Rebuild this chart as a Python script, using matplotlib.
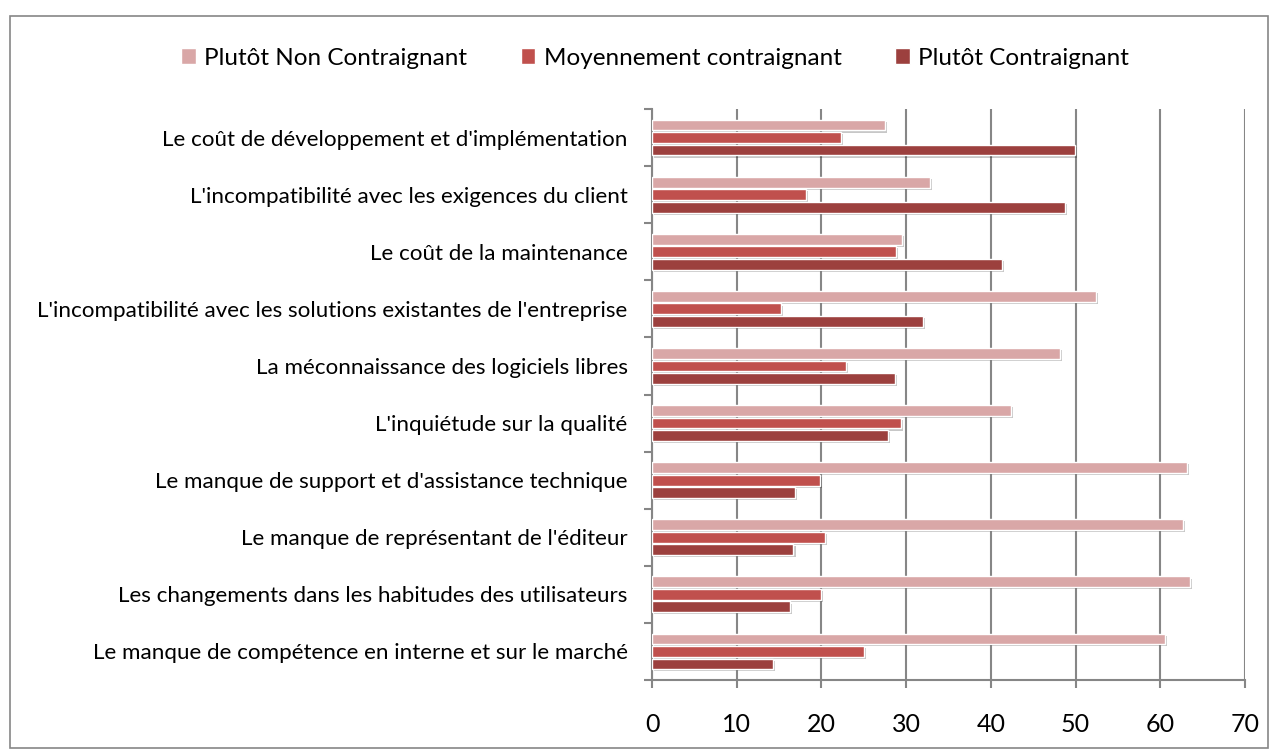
import matplotlib
matplotlib.use('Agg')
import matplotlib.pyplot as plt
import matplotlib.patheffects as pe
from matplotlib.patches import Patch, Rectangle
import numpy as np

plt.rcParams['font.family'] = ['Lato', 'DejaVu Sans']

# categories, top to bottom
categories = [
    "Le coût de développement et d'implémentation",
    "L'incompatibilité avec les exigences du client",
    "Le coût de la maintenance",
    "L'incompatibilité avec les solutions existantes de l'entreprise",
    "La méconnaissance des logiciels libres",
    "L'inquiétude sur la qualité",
    "Le manque de support et d'assistance technique",
    "Le manque de représentant de l'éditeur",
    "Les changements dans les habitudes des utilisateurs",
    "Le manque de compétence en interne et sur le marché",
]
non_contraignant = [27.5, 32.8, 29.5, 52.4, 48.2, 42.4, 63.1, 62.7, 63.5, 60.6]
moyen_contraignant = [22.3, 18.2, 28.8, 15.2, 22.9, 29.4, 19.8, 20.4, 19.9, 25.0]
contraignant = [49.9, 48.8, 41.3, 32.0, 28.7, 27.9, 16.9, 16.7, 16.3, 14.3]
series_names = ['Plutôt Non Contraignant', 'Moyennement contraignant', 'Plutôt Contraignant']
colors = ['#D9A7A7', '#C0504D', '#9C403E']
x_ticks = [0, 10, 20, 30, 40, 50, 60, 70]

fig = plt.figure(figsize=(12.78, 7.56), dpi=100)
ax = fig.add_axes([652 / 1278, 76 / 756, 593 / 1278, 571 / 756])

n = len(categories)
y = np.arange(n)[::-1]
h = 0.19
off = 0.219
grey = '#868686'

shadow = [pe.SimplePatchShadow(offset=(1.5, -1.5), shadow_rgbFace='black', alpha=0.22), pe.Normal()]
for vals, o, c in zip([non_contraignant, moyen_contraignant, contraignant], [off, 0, -off], colors):
    bars = ax.barh(y + o, vals, height=h, color=c, edgecolor='white', linewidth=1.0, zorder=3)
    for b in bars:
        b.set_path_effects(shadow)

ax.set_xlim(0, 70)
ax.set_ylim(-0.5, n - 0.5)
ax.set_xticks(x_ticks)
ax.set_xticklabels([str(v) for v in x_ticks], fontsize=18)
ax.tick_params(axis='x', length=6, width=1.5, color=grey, pad=17.5, direction='out')
ax.set_yticks(y)
ax.set_yticklabels(categories, fontsize=16.1)
ax.tick_params(axis='y', which='major', length=0, pad=17.5)
ax.set_yticks(np.arange(-0.5, n, 1.0), minor=True)
ax.tick_params(axis='y', which='minor', length=6, width=1.5, color=grey, direction='out')
ax.grid(axis='x', color=grey, linewidth=1.5, zorder=0)
for s in ['top', 'right']:
    ax.spines[s].set_visible(False)
for s in ['left', 'bottom']:
    ax.spines[s].set_color(grey)
    ax.spines[s].set_linewidth(1.5)

handles = [Patch(facecolor=c, edgecolor='white') for c in colors]
fig.legend(handles, series_names, loc='center', bbox_to_anchor=(0.5125, 0.923), ncol=3,
           frameon=False, fontsize=17.5, handlelength=0.6, handleheight=0.6,
           handletextpad=0.35, columnspacing=2.2)

fig.patches.append(Rectangle((10 / 1278, 8 / 756), 1258 / 1278, 732 / 756, transform=fig.transFigure,
                             fill=False, edgecolor=grey, linewidth=1.2))

fig.savefig('out.png', dpi=100)
